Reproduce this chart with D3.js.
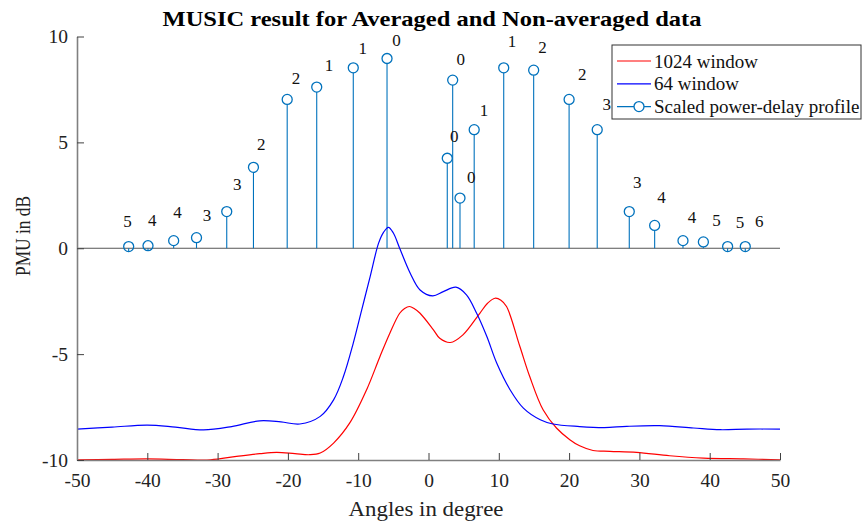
<!DOCTYPE html>
<html>
<head>
<meta charset="utf-8">
<script src="https://cdn.jsdelivr.net/npm/d3@7"></script>
<style>
  body { margin: 0; background: #fff; }
  text { font-family: "Liberation Serif", "Times New Roman", serif; }
</style>
</head>
<body>
<svg id="chart" width="862" height="525"></svg>
<script>
// MUSIC spectrum, 1024 window (red)
const redAngles = [-50, -45, -40, -35, -31, -27.3, -24, -21.6, -19, -16.9, -15.4, -13.5, -11.2, -8.8, -6.9, -5.5, -4.1, -3.4, -2.7, -2.0, -1.2, 0.7, 1.6, 3.1, 4.9, 7.3, 8.4, 9.45, 10.3, 11.1, 13.0, 14.4, 16.3, 18.2, 20.1, 21.5, 23.4, 25.8, 29.6, 34.3, 39.1, 44.8, 50];
const redValues = [-9.99, -9.97, -9.95, -9.98, -9.99, -9.83, -9.7, -9.64, -9.7, -9.75, -9.67, -9.2, -8.25, -6.68, -5.11, -4.01, -3.07, -2.84, -2.75, -2.86, -3.07, -3.85, -4.25, -4.45, -4.09, -3.07, -2.6, -2.36, -2.45, -2.75, -4.64, -6.06, -7.63, -8.49, -9.04, -9.33, -9.55, -9.59, -9.64, -9.8, -9.91, -9.95, -9.99];

// MUSIC spectrum, 64 window (blue)
const blueAngles = [-50, -45, -40, -36, -32, -28, -24, -21, -18.3, -15.4, -13.5, -12.1, -10.7, -9.5, -8.3, -7.1, -6.4, -5.7, -5.0, -4.1, -2.6, -1.2, 0.6, 2.1, 3.9, 5.4, 6.85, 8.3, 9.7, 11.6, 13.5, 15.9, 17.7, 21.5, 25, 28.2, 32.9, 37.7, 41.5, 45.3, 50];
const blueValues = [-8.54, -8.45, -8.35, -8.45, -8.58, -8.42, -8.15, -8.2, -8.3, -7.94, -7.16, -6.06, -4.48, -2.91, -1.34, 0.24, 0.75, 0.99, 0.72, 0, -1.18, -1.97, -2.25, -2.05, -1.84, -2.2, -3.07, -4.17, -5.42, -6.68, -7.55, -8.1, -8.3, -8.42, -8.47, -8.41, -8.38, -8.49, -8.57, -8.54, -8.54];

// scaled power-delay profile (stems)
const stemAngles = [-42.65, -39.9, -36.25, -33.0, -28.7, -24.9, -20.1, -15.9, -10.7, -5.9, 2.67, 3.44, 4.48, 6.5, 10.7, 14.96, 20.0, 24.0, 28.56, 32.17, 36.2, 39.1, 42.55, 45.06];
const stemValues = [0.08, 0.12, 0.36, 0.5, 1.73, 3.82, 7.03, 7.61, 8.52, 8.96, 4.25, 7.94, 2.37, 5.6, 8.52, 8.41, 7.03, 5.6, 1.73, 1.08, 0.36, 0.3, 0.08, 0.08];

// text annotations next to the stems
const labelTexts = ["5", "4", "4", "3", "3", "2", "2", "1", "1", "0", "0", "0", "0", "1", "1", "2", "2", "3", "3", "4", "4", "5", "5", "6"];
const labelAngles = [-42.8, -39.3, -35.7, -31.5, -27.2, -23.8, -18.85, -14.15, -9.35, -4.55, 4.57, 3.66, 6.08, 7.9, 11.87, 16.23, 21.87, 25.34, 29.69, 33.16, 37.47, 40.98, 44.3, 47.04];
const labelValues = [1.25, 1.29, 1.7, 1.57, 2.99, 4.92, 8.02, 8.65, 9.45, 9.83, 8.92, 5.26, 3.33, 6.52, 9.75, 9.48, 8.22, 6.79, 3.11, 2.42, 1.43, 1.33, 1.21, 1.27];

const xTicks = [-50, -40, -30, -20, -10, 0, 10, 20, 30, 40, 50];
const yTicks = [-10, -5, 0, 5, 10];

const svg = d3.select("#chart");
const plotLeft = 77, plotRight = 780, plotTop = 36.5, plotBottom = 460;

const x = d3.scaleLinear().domain([-50, 50]).range([plotLeft, plotRight]);
const y = d3.scaleLinear().domain([-10, 10]).range([plotBottom, plotTop]);

// stem baseline
svg.append("line")
    .attr("x1", x(-50)).attr("x2", x(50))
    .attr("y1", y(0)).attr("y2", y(0))
    .attr("stroke", "#555").attr("stroke-width", 1);

// stems
const stemColor = "#0072BD";
stemAngles.forEach((a, i) => {
    svg.append("line")
        .attr("x1", x(a)).attr("x2", x(a))
        .attr("y1", y(0)).attr("y2", y(stemValues[i]) + 5)
        .attr("stroke", stemColor).attr("stroke-width", 1.1);
    svg.append("circle")
        .attr("cx", x(a)).attr("cy", y(stemValues[i]))
        .attr("r", 5)
        .attr("fill", "none")
        .attr("stroke", stemColor).attr("stroke-width", 1.3);
});

// curves
const line = d3.line().x(d => x(d[0])).y(d => y(d[1])).curve(d3.curveCatmullRom.alpha(0.5));
svg.append("path")
    .datum(redAngles.map((a, i) => [a, redValues[i]]))
    .attr("d", line)
    .attr("fill", "none").attr("stroke", "#ff0000").attr("stroke-width", 1.2);
svg.append("path")
    .datum(blueAngles.map((a, i) => [a, blueValues[i]]))
    .attr("d", line)
    .attr("fill", "none").attr("stroke", "#0000ff").attr("stroke-width", 1.2);

// annotations
svg.selectAll(".lbl")
    .data(labelTexts)
    .enter().append("text")
    .attr("class", "lbl")
    .attr("x", (d, i) => x(labelAngles[i]))
    .attr("y", (d, i) => y(labelValues[i]))
    .attr("text-anchor", "middle")
    .attr("dominant-baseline", "central")
    .attr("font-size", 17)
    .attr("fill", "#111")
    .text(d => d);

// axes (plain hyphen minus like the original)
const fmt = d => String(d);
const xAxis = svg.append("g")
    .attr("transform", `translate(0,${plotBottom})`)
    .call(d3.axisBottom(x).tickValues(xTicks).tickFormat(fmt).tickSizeInner(-7).tickSizeOuter(0).tickPadding(13));
const yAxis = svg.append("g")
    .attr("transform", `translate(${plotLeft},0)`)
    .call(d3.axisLeft(y).tickValues(yTicks).tickFormat(fmt).tickSizeInner(-7).tickSizeOuter(0).tickPadding(9));

[xAxis, yAxis].forEach(g => {
    g.select(".domain").attr("stroke", "#808080").attr("stroke-width", 1.6);
    g.selectAll(".tick line").attr("stroke", "#404040").attr("stroke-width", 1);
    g.selectAll(".tick text")
        .attr("font-family", "Liberation Serif, Times New Roman, serif")
        .attr("font-size", 19.5).attr("fill", "#222");
});

// titles
svg.append("text")
    .attr("x", 432).attr("y", 26)
    .attr("text-anchor", "middle")
    .attr("font-size", 21).attr("font-weight", "bold")
    .attr("textLength", 539).attr("lengthAdjust", "spacingAndGlyphs")
    .text("MUSIC result for Averaged and Non-averaged data");

svg.append("text")
    .attr("x", 426).attr("y", 516)
    .attr("text-anchor", "middle")
    .attr("font-size", 22).attr("fill", "#222")
    .attr("textLength", 155).attr("lengthAdjust", "spacingAndGlyphs")
    .text("Angles in degree");

svg.append("text")
    .attr("transform", "translate(30,236) rotate(-90)")
    .attr("text-anchor", "middle")
    .attr("font-size", 20).attr("fill", "#222")
    .attr("textLength", 80).attr("lengthAdjust", "spacingAndGlyphs")
    .text("PMU in dB");

// legend
const legend = svg.append("g");
legend.append("rect")
    .attr("x", 612).attr("y", 45).attr("width", 249).attr("height", 74)
    .attr("fill", "#fff").attr("stroke", "#333").attr("stroke-width", 1);

const legendNames = ["1024 window", "64 window", "Scaled power-delay profile"];
const legendColors = ["#ff0000", "#0000ff", stemColor];
legendNames.forEach((name, i) => {
    const ly = 61 + i * 22.8;
    legend.append("line")
        .attr("x1", 617).attr("x2", 651).attr("y1", ly).attr("y2", ly)
        .attr("stroke", legendColors[i]).attr("stroke-width", 1.2);
    if (i === 2) {
        legend.append("circle")
            .attr("cx", 639).attr("cy", ly).attr("r", 5)
            .attr("fill", "#fff").attr("stroke", stemColor).attr("stroke-width", 1.3);
    }
    legend.append("text")
        .attr("x", 654).attr("y", ly)
        .attr("dominant-baseline", "central")
        .attr("font-size", 19).attr("fill", "#111")
        .text(name);
});
</script>
</body>
</html>
